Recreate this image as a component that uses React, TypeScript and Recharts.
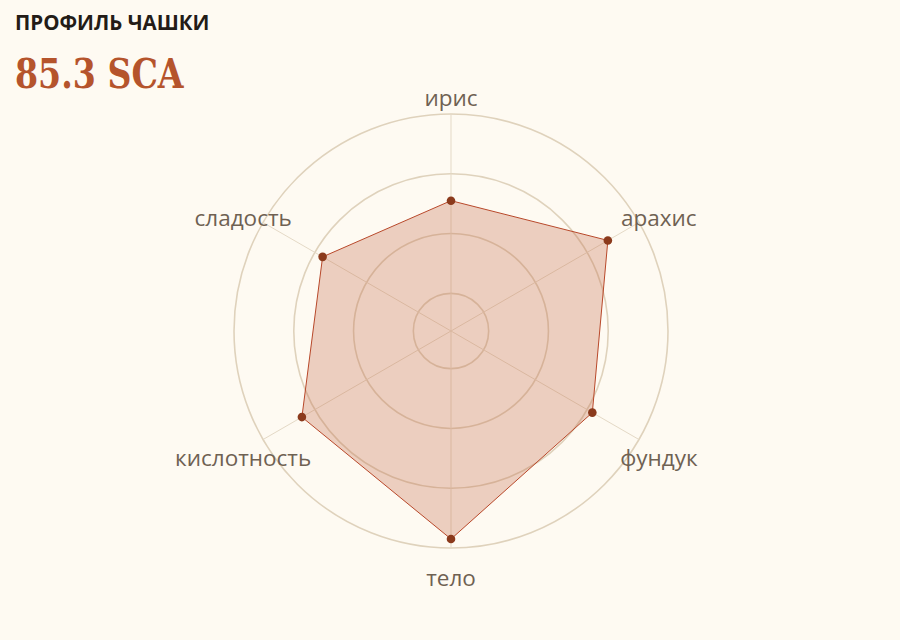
import { PolarAngleAxis, PolarGrid, PolarRadiusAxis, Radar, RadarChart } from "recharts";

const attributes = ["ирис", "арахис", "фундук", "тело", "кислотность", "сладость"];
const scores = [8.55, 9.4, 9.1, 9.85, 9.25, 8.85];
const ringTicks = [7, 8, 9, 10];
const scoreDomain: [number, number] = [6.37, 10];

const data = attributes.map((name, i) => ({ name, score: scores[i] }));

const CX = 451;
const CY = 331;

function AngleTick(props: any) {
  const { x, y, payload } = props;
  return (
    <text
      x={x}
      y={y}
      dy={15}
      textAnchor="middle"
      fill="#6f6152"
      fontSize={22.5}
      fontFamily='"Open Sans", "Noto Sans", sans-serif'
    >
      {payload.value}
    </text>
  );
}

export default function App() {
  return (
    <div
      style={{
        position: "fixed",
        left: 0,
        top: 0,
        width: 900,
        height: 640,
        background: "#fefaf2",
        overflow: "hidden",
      }}
    >
      <RadarChart
        width={900}
        height={640}
        data={data}
        cx={CX}
        cy={CY}
        outerRadius={217}
        margin={{ top: 0, right: 0, bottom: 0, left: 0 }}
      >
        <PolarGrid gridType="circle" radialLines={false} stroke="#dfd2bc" strokeWidth={1.6} />
        <PolarGrid gridType="circle" polarRadius={[]} stroke="#e4d9c6" strokeWidth={1} />
        <PolarRadiusAxis
          domain={scoreDomain}
          ticks={ringTicks as any}
          tickCount={0}
          allowDataOverflow
          tick={false}
          axisLine={false}
        />
        <PolarAngleAxis dataKey="name" tickLine={false} axisLine={false} tickSize={23} tick={<AngleTick />} />
        <Radar
          dataKey="score"
          stroke="#b8482a"
          strokeWidth={1}
          fill="#c26a48"
          fillOpacity={0.3}
          dot={{ r: 4.3, fill: "#8b3a1c", stroke: "none", fillOpacity: 1 }}
          isAnimationActive={false}
        />
      </RadarChart>
      <div
        style={{
          position: "absolute",
          left: 15,
          top: 12,
          fontFamily: '"Open Sans", "Noto Sans", sans-serif',
          fontWeight: 700,
          fontSize: 20.5,
          lineHeight: 1,
          color: "#231c17",
        }}
      >
        ПРОФИЛЬ ЧАШКИ
      </div>
      <div
        style={{
          position: "absolute",
          left: 15,
          top: 54,
          fontFamily: '"DejaVu Serif", serif',
          fontWeight: 700,
          fontSize: 41,
          lineHeight: 1,
          color: "#b5542c",
          transform: "scaleX(0.81)",
          transformOrigin: "left top",
          whiteSpace: "nowrap",
        }}
      >
        85.3 SCA
      </div>
    </div>
  );
}
